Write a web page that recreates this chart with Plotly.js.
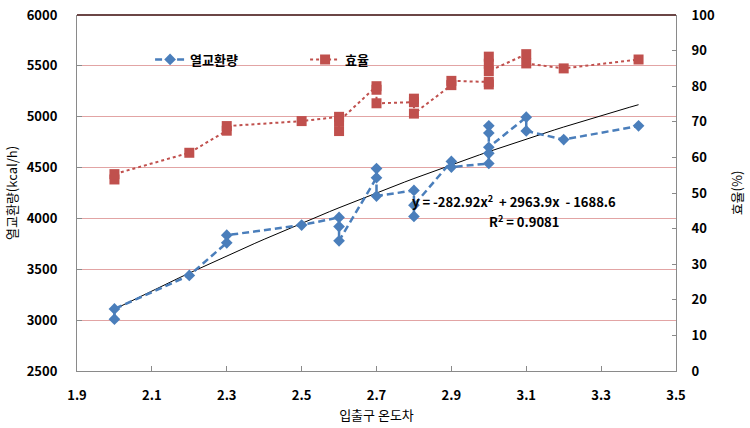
<!DOCTYPE html>
<html>
<head>
<meta charset="utf-8">
<script src="https://cdn.plot.ly/plotly-3.0.1.min.js"></script>
<style>html,body{margin:0;padding:0;background:#fff;}#chart{width:750px;height:428px;}</style>
</head>
<body>
<div id="chart"></div>
<script>
// 열교환량 (heat exchange, kcal/h) vs 입출구 온도차
const heatX = [2.0, 2.0, 2.2, 2.3, 2.3, 2.5, 2.6, 2.6, 2.6, 2.7, 2.7, 2.7, 2.8, 2.8, 2.8, 2.9, 2.9, 3.0, 3.0, 3.0, 3.0, 3.0, 3.1, 3.1, 3.2, 3.4];
const heatY = [3010, 3110, 3440, 3760, 3835, 3935, 4010, 3920, 3780, 4400, 4490, 4220, 4275, 4020, 4130, 4560, 4505, 4540, 4910, 4840, 4640, 4700, 4995, 4860, 4775, 4910];
// 효율 (efficiency, %)
const effX = [2.0, 2.0, 2.2, 2.3, 2.3, 2.5, 2.6, 2.6, 2.6, 2.7, 2.7, 2.7, 2.8, 2.8, 2.8, 2.9, 2.9, 3.0, 3.0, 3.0, 3.0, 3.0, 3.1, 3.1, 3.2, 3.4];
const effY = [53.8, 55.3, 61.3, 67.5, 68.8, 70.2, 71.4, 67.4, 70.2, 80.0, 79.0, 75.2, 75.5, 76.5, 72.3, 80.3, 81.5, 81.2, 80.5, 88.3, 86.3, 84.2, 89.0, 86.4, 85.0, 87.5];
// 2nd-order trendline coefficients (a, b, c) as printed on chart, and its x span
const trendCoef = [-282.92, 2963.9, -1688.6];
const trendSpan = [2.0, 3.4];
const seriesNames = ["열교환량", "효율"];
const eqText = ["y = -282.92x<sup>2</sup>  + 2963.9x  - 1688.6", "R<sup>2</sup> = 0.9081"];

const trendX = [], trendY = [];
for (let i = 0; i <= 56; i++) {
  const x = trendSpan[0] + (trendSpan[1] - trendSpan[0]) * i / 56;
  trendX.push(x);
  trendY.push(trendCoef[0] * x * x + trendCoef[1] * x + trendCoef[2]);
}

const FONT = '"Noto Sans CJK KR", "Noto Sans", sans-serif';
const blue = '#4a7ebb';
const red = '#c0504d';

const traces = [
  { x: trendX, y: trendY, mode: 'lines', line: {color: '#000', width: 1}, showlegend: false, hoverinfo: 'skip' },
  { x: heatX, y: heatY, name: seriesNames[0], mode: 'lines+markers',
    line: {color: blue, width: 2.5, dash: '7px,4px'},
    marker: {symbol: 'diamond', size: 9, color: blue} },
  { x: effX, y: effY, name: seriesNames[1], yaxis: 'y2', mode: 'lines+markers',
    line: {color: red, width: 2, dash: 'dot'},
    marker: {symbol: 'square', size: 10, color: red} }
];

const tickFont = {family: FONT, size: 13, color: '#000', weight: 'bold'};
const layout = {
  width: 750, height: 428,
  margin: {l: 77, r: 74, t: 15, b: 57},
  paper_bgcolor: '#fff', plot_bgcolor: '#fff',
  font: {family: FONT, color: '#000'},
  xaxis: {
    range: [1.9, 3.5], tick0: 1.9, dtick: 0.2, tickformat: '.1f',
    showgrid: false, zeroline: false, showline: true, linecolor: '#8a8a8a', linewidth: 1,
    ticks: 'inside', ticklen: 5, tickcolor: '#8a8a8a', tickfont: tickFont, ticklabelstandoff: 12,
    title: {text: '입출구 온도차', font: {family: FONT, size: 13, color: '#000'}, standoff: 8}
  },
  yaxis: {
    range: [2500, 6000], dtick: 500,
    showgrid: true, gridcolor: '#e2a4a4', gridwidth: 1, zeroline: false,
    showline: true, linecolor: '#8a8a8a', linewidth: 1,
    ticks: 'inside', ticklen: 5, tickcolor: '#8a8a8a', tickfont: tickFont, ticklabelstandoff: 16,
    title: {text: '열교환량(kcal/h)', font: {family: FONT, size: 13, color: '#000'}, standoff: 6}
  },
  yaxis2: {
    range: [0, 100], dtick: 10, overlaying: 'y', side: 'right',
    showgrid: false, zeroline: false, showline: true, linecolor: '#8a8a8a', linewidth: 1,
    ticks: 'inside', ticklen: 4, tickcolor: '#8a8a8a', tickfont: tickFont, ticklabelstandoff: 12,
    title: {text: '효율(%)', font: {family: FONT, size: 13, color: '#000'}, standoff: 18}
  },
  legend: {
    orientation: 'h', x: 0.122, y: 0.875, xanchor: 'left', yanchor: 'middle',
    bgcolor: 'rgba(0,0,0,0)', font: {family: FONT, size: 13, color: '#000', weight: 'bold'},
    entrywidth: 110, entrywidthmode: 'pixels', traceorder: 'normal'
  },
  shapes: [
    {type: 'line', xref: 'paper', yref: 'paper', x0: 0, x1: 1, y0: 1, y1: 1, line: {color: '#6b4646', width: 2}}
  ],
  annotations: [
    {xref: 'x', yref: 'y', x: 2.79, y: 4170, xanchor: 'left', yanchor: 'middle', showarrow: false,
     text: eqText[0], font: {family: FONT, size: 13, color: '#000', weight: 'bold'}},
    {xref: 'x', yref: 'y', x: 3.095, y: 3975, xanchor: 'center', yanchor: 'middle', showarrow: false,
     text: eqText[1], font: {family: FONT, size: 13, color: '#000', weight: 'bold'}}
  ],
  showlegend: true
};

Plotly.newPlot('chart', traces, layout, {displayModeBar: false, staticPlot: true});
</script>
</body>
</html>
